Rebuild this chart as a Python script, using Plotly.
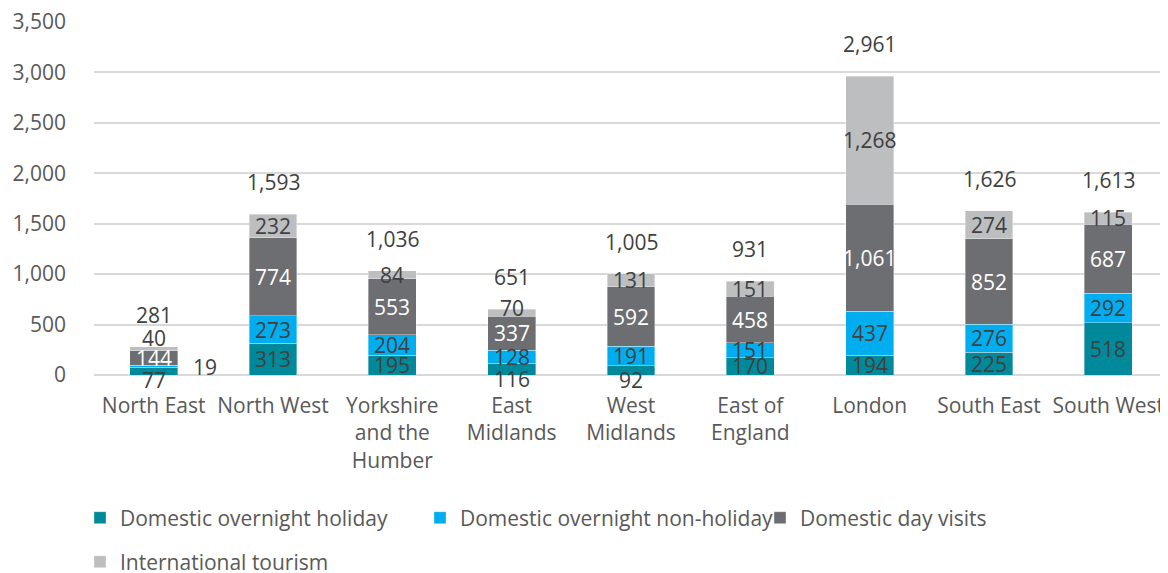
import plotly.graph_objects as go

categories = ["North East", "North West", "Yorkshire<br>and the<br>Humber", "East<br>Midlands",
              "West<br>Midlands", "East of<br>England", "London", "South East", "South West"]
holiday = [77, 313, 195, 116, 92, 170, 194, 225, 518]
non_holiday = [19, 273, 204, 128, 191, 151, 437, 276, 292]
day_visits = [144, 774, 553, 337, 592, 458, 1061, 852, 687]
international = [40, 232, 84, 70, 131, 151, 1268, 274, 115]
totals = [281, 1593, 1036, 651, 1005, 931, 2961, 1626, 1613]

series_names = ["Domestic overnight holiday", "Domestic overnight non-holiday",
                "Domestic day visits", "International tourism"]
series_values = [holiday, non_holiday, day_visits, international]
colors = ["#00899A", "#00AEEF", "#6D6E71", "#BCBEC0"]
label_colors = ["#404040", "#404040", "#FFFFFF", "#404040"]
legend_ids = ["legend", "legend", "legend", "legend2"]

# manual label nudges (series index, category index) -> (xshift, yshift) in px
label_nudges = {(0, 0): (0, -9), (1, 0): (51, -1), (3, 0): (0, 11),
                (0, 3): (0, -10), (3, 3): (0, 5), (0, 4): (0, -10)}

FONT = "Open Sans"
FS = 21
fig = go.Figure()
for name, vals, col, lg in zip(series_names, series_values, colors, legend_ids):
    fig.add_trace(go.Bar(x=categories, y=vals, name=name,
                         marker=dict(color=col, line=dict(width=0.6, color="rgba(255,255,255,0.6)")),
                         legend=lg))

annotations = []
base = [0] * len(categories)
for si, vals in enumerate(series_values):
    for ci, v in enumerate(vals):
        dx, dy = label_nudges.get((si, ci), (0, 0))
        annotations.append(dict(x=categories[ci], y=base[ci] + v / 2, text=f"{v:,}", showarrow=False,
                                xref="x", yref="y", xshift=dx, yshift=dy,
                                font=dict(family=FONT, size=FS, color=label_colors[si])))
        base[ci] += v
for ci, t in enumerate(totals):
    annotations.append(dict(x=categories[ci], y=base[ci], text=f"{t:,}", showarrow=False,
                            xref="x", yref="y", yshift=32,
                            font=dict(family=FONT, size=FS, color="#404040")))

W, H = 1160, 565
fig.update_layout(
    width=W, height=H, autosize=False,
    barmode="stack", bargap=0.6,
    plot_bgcolor="white", paper_bgcolor="white",
    margin=dict(l=86, r=0, t=14, b=198),
    font=dict(family=FONT, size=FS, color="#595959"),
    annotations=annotations,
    xaxis=dict(type="category", showgrid=False, showline=False, ticks="",
               tickfont=dict(family=FONT, size=FS, color="#595959"), ticklabelstandoff=16),
    yaxis=dict(range=[0, 3500], dtick=500, tickformat=",", showgrid=True, gridcolor="#D9D9D9",
               gridwidth=1.5, zeroline=True, zerolinecolor="#D9D9D9", zerolinewidth=1.5,
               showline=False, ticks="", ticklabelstandoff=27, ticklabeloverflow="allow",
               tickfont=dict(family=FONT, size=FS, color="#595959")),
    legend=dict(orientation="h", xref="container", yref="container", x=72 / W, y=1 - 510 / H,
                xanchor="left", yanchor="middle", entrywidth=295, entrywidthmode="pixels",
                traceorder="normal",
                font=dict(family=FONT, size=FS, color="#595959"), bgcolor="rgba(0,0,0,0)"),
    legend2=dict(orientation="h", xref="container", yref="container", x=72 / W, y=1 - 554 / H,
                 xanchor="left", yanchor="middle",
                 font=dict(family=FONT, size=FS, color="#595959"), bgcolor="rgba(0,0,0,0)"),
)

fig.write_html("out.html")
